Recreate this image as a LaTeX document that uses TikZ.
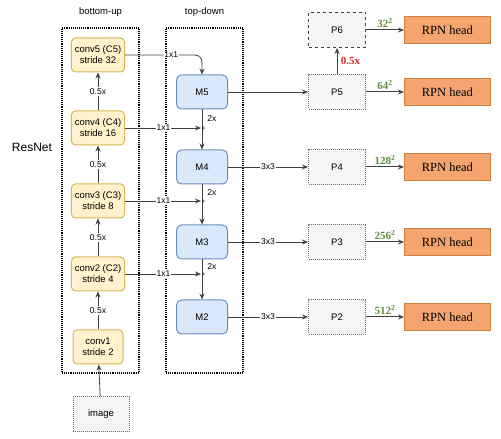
\documentclass[tikz,border=0pt]{standalone}
\usepackage{fontspec}
\setmainfont{Liberation Serif}
\setsansfont{Liberation Sans}
\usetikzlibrary{positioning,arrows.meta}
\definecolor{convfill}{HTML}{FFF2CC}
\definecolor{convline}{HTML}{D6B656}
\definecolor{mfill}{HTML}{DAE8FC}
\definecolor{mline}{HTML}{6C8EBF}
\definecolor{pfill}{HTML}{F5F5F5}
\definecolor{pline}{HTML}{6E6E6E}
\definecolor{rpnfill}{HTML}{F4A46E}
\definecolor{rpnline}{HTML}{D0803E}
\definecolor{sizegreen}{HTML}{5E8E3E}
\definecolor{halfred}{HTML}{E0282A}

\begin{document}
\begin{tikzpicture}[x=1pt, y=1pt, node distance=38pt,
    every node/.style={font=\sffamily\fontsize{9.5}{11}\selectfont},
    conv/.style={draw=convline, fill=convfill, line width=1pt, rounded corners=4pt, minimum width=50pt, minimum height=34pt, align=center},
    mbox/.style={draw=mline, fill=mfill, line width=1pt, rounded corners=5pt, minimum width=51pt, minimum height=34pt},
    pbox/.style={draw=pline, fill=pfill, densely dotted, line width=1pt, minimum width=57pt, minimum height=35pt},
    rpn/.style={draw=rpnline, fill=rpnfill, line width=0.8pt, minimum width=86pt, minimum height=27pt, font=\rmfamily\fontsize{12.5}{14}\selectfont},
    group/.style={draw, densely dotted, line width=1.1pt, minimum width=77pt, minimum height=345pt},
    link/.style={draw=black!75, line width=0.8pt, -{Stealth[length=6pt, width=5pt]}},
    plain/.style={draw=black!75, line width=0.8pt},
    lbl/.style={fill=white, inner sep=1pt, font=\sffamily\fontsize{8.5}{9}\selectfont},
    sizelbl/.style={text=sizegreen, font=\rmfamily\bfseries\fontsize{11}{12}\selectfont},
    plus/.style={inner sep=0pt, font=\sffamily\fontsize{6}{6}\selectfont}]
    \useasboundingbox (0,0) rectangle (501,439);
    \node[group] (bu) at (100.5,238.5) {};
    \node[group] (td) at (204.5,238.5) {};
    \node[above=7pt of bu] (butitle) {bottom-up};
    \node[above=7pt of td] (tdtitle) {top-down};
    \node[font=\sffamily\fontsize{12}{14}\selectfont] (resnet) at (32,292) {ResNet};
    \node[conv] (conv1) at (98,92) {conv1\\stride 2};
    \node[conv, above=of conv1] (conv2) {conv2 (C2)\\stride 4};
    \node[conv, above=of conv2] (conv3) {conv3 (C3)\\stride 8};
    \node[conv, above=of conv3] (conv4) {conv4 (C4)\\stride 16};
    \node[conv, above=of conv4] (conv5) {conv5 (C5)\\stride 32};
    \node[pbox, minimum width=56pt, below=32pt of conv1, xshift=3pt] (image) {image};
    \node[mbox] (m5) at (202,347) {M5};
    \node[mbox, below=40pt of m5] (m4) {M4};
    \node[mbox, below=40pt of m4] (m3) {M3};
    \node[mbox, below=40pt of m3] (m2) {M2};
    \node[pbox, right=80pt of m5] (p5) {P5};
    \node[pbox, right=80pt of m4] (p4) {P4};
    \node[pbox, right=80pt of m3] (p3) {P3};
    \node[pbox, right=80pt of m2] (p2) {P2};
    \node[pbox, dashed, draw=black!75, above=26pt of p5] (p6) {P6};
    \node[rpn, right=of p6] (rpn6) {RPN head};
    \node[rpn, right=of p5] (rpn5) {RPN head};
    \node[rpn, right=of p4] (rpn4) {RPN head};
    \node[rpn, right=of p3] (rpn3) {RPN head};
    \node[rpn, right=of p2] (rpn2) {RPN head};
    \coordinate (sum4) at (m5 |- conv4);
    \coordinate (sum3) at (m4 |- conv3);
    \coordinate (sum2) at (m3 |- conv2);
    \draw[link] (image) -- (conv1);
    \draw[link] (conv1) -- (conv2) node[lbl, midway] {0.5x};
    \draw[link] (conv2) -- (conv3) node[lbl, midway] {0.5x};
    \draw[link] (conv3) -- (conv4) node[lbl, midway] {0.5x};
    \draw[link] (conv4) -- (conv5) node[lbl, midway] {0.5x};
    \draw[link, rounded corners=7pt] (conv5.east) -| (m5.north) node[lbl, pos=0.3] {1x1};
    \draw[link, shorten >=1pt] (conv4.east) -- (sum4) node[lbl, midway] {1x1};
    \draw[link, shorten >=1pt] (conv3.east) -- (sum3) node[lbl, midway] {1x1};
    \draw[link, shorten >=1pt] (conv2.east) -- (sum2) node[lbl, midway] {1x1};
    \draw[plain] (m5) -- (sum4) node[midway, right=4pt, lbl, fill=none] {2x};
    \draw[plain] (m4) -- (sum3) node[midway, right=4pt, lbl, fill=none] {2x};
    \draw[plain] (m3) -- (sum2) node[midway, right=4pt, lbl, fill=none] {2x};
    \draw[link] (sum4) -- (m4);
    \draw[link] (sum3) -- (m3);
    \draw[link] (sum2) -- (m2);
    \node[plus, xshift=1.5pt, yshift=-1pt] (plus4) at (sum4) {+};
    \node[plus, xshift=1.5pt, yshift=-1pt] (plus3) at (sum3) {+};
    \node[plus, xshift=1.5pt, yshift=-1pt] (plus2) at (sum2) {+};
    \draw[link] (m5) -- (p5);
    \draw[link] (m4) -- (p4) node[lbl, midway] {3x3};
    \draw[link] (m3) -- (p3) node[lbl, midway] {3x3};
    \draw[link] (m2) -- (p2) node[lbl, midway] {3x3};
    \draw[link, line width=1pt] (p5) -- (p6) node[midway, right, text=halfred, font=\rmfamily\bfseries\fontsize{11}{12}\selectfont] {0.5x};
    \draw[link, line width=1pt] (p6) -- (rpn6) node[midway, above=-1pt, sizelbl] {32\textsuperscript{2}};
    \draw[link, line width=1pt] (p5) -- (rpn5) node[midway, above=-1pt, sizelbl] {64\textsuperscript{2}};
    \draw[link, line width=1pt] (p4) -- (rpn4) node[midway, above=-1pt, sizelbl] {128\textsuperscript{2}};
    \draw[link, line width=1pt] (p3) -- (rpn3) node[midway, above=-1pt, sizelbl] {256\textsuperscript{2}};
    \draw[link, line width=1pt] (p2) -- (rpn2) node[midway, above=-1pt, sizelbl] {512\textsuperscript{2}};
\end{tikzpicture}
\end{document}
